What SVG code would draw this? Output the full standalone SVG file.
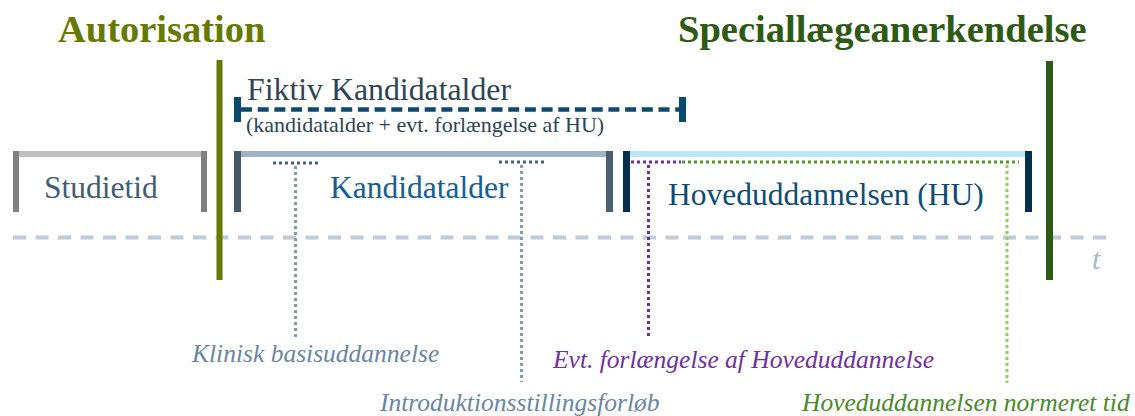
<svg xmlns="http://www.w3.org/2000/svg" width="1135" height="416" viewBox="0 0 1135 416">
<style>
.serif{font-family:"Liberation Serif","Times New Roman",serif}
.title{font-weight:bold;font-size:38.5px}
.lbl{font-size:31.5px}
.it{font-style:italic;font-size:25.5px}
.dotv{stroke-width:3;stroke-dasharray:3 3;fill:none}
.doth{stroke-width:3;stroke-dasharray:3 3;fill:none}
</style>
<rect width="1135" height="416" fill="#ffffff"/>
<g id="axis">
<line x1="13" y1="237.5" x2="1108" y2="237.5" stroke="#BCCCD8" stroke-width="4" stroke-dasharray="13 9.5"/>
<text class="serif" x="1092" y="269" font-size="30" font-style="italic" fill="#A4BACB">t</text>
</g>
<g id="autorisation">
<text class="serif title" x="58" y="42" fill="#667A00">Autorisation</text>
<rect x="216.5" y="60" width="6" height="220" fill="#667A00"/>
</g>
<g id="speciallaege">
<text class="serif title" x="678" y="42" fill="#2E5A14">Speciallægeanerkendelse</text>
<rect x="1046" y="61" width="7" height="219" fill="#2E5A14"/>
</g>
<g id="fiktiv">
<text class="serif" x="247" y="100" font-size="31.8" fill="#2E4456">Fiktiv Kandidatalder</text>
<line x1="241" y1="109.5" x2="679" y2="109.5" stroke="#0B4A6E" stroke-width="4.5" stroke-dasharray="11 5.7"/>
<rect x="234" y="97" width="7" height="25" fill="#0B4A6E"/>
<rect x="679" y="97" width="7" height="25" fill="#0B4A6E"/>
<text class="serif" x="246" y="132" font-size="22" fill="#2E4456">(kandidatalder + evt. forlængelse af HU)</text>
</g>
<g id="studietid">
<rect x="13" y="151" width="194" height="6" fill="#BFBFBF"/>
<rect x="13" y="151" width="6" height="61" fill="#808080"/>
<rect x="201" y="151" width="6" height="61" fill="#808080"/>
<text class="serif lbl" x="44" y="198" fill="#3F5E72">Studietid</text>
</g>
<g id="kandidatalder">
<rect x="234" y="151" width="378" height="6" fill="#9EB4C6"/>
<rect x="234" y="151" width="7" height="61" fill="#44596B"/>
<rect x="606" y="151" width="7" height="61" fill="#4A6072"/>
<text class="serif lbl" x="330" y="198" fill="#15608F">Kandidatalder</text>
</g>
<g id="hu">
<rect x="630" y="151" width="396" height="6" fill="#BDE5F8"/>
<rect x="623" y="151" width="7" height="61" fill="#042F4A"/>
<rect x="1025" y="151" width="7" height="61" fill="#042F4A"/>
<text class="serif lbl" x="668" y="205" fill="#0E4D73">Hoveduddannelsen (HU)</text>
</g>
<g id="connectors">
<line class="doth" x1="273" y1="163" x2="321" y2="163" stroke="#4A6072"/>
<line class="dotv" x1="295.5" y1="166" x2="295.5" y2="338" stroke="#7F9CB0"/>
<line class="doth" x1="499" y1="162" x2="547" y2="162" stroke="#4A6072"/>
<line class="dotv" x1="521.5" y1="165" x2="521.5" y2="382" stroke="#7F9CB0"/>
<line class="doth" x1="631" y1="162" x2="681" y2="162" stroke="#7030A0"/>
<line class="dotv" x1="648.5" y1="165" x2="648.5" y2="337" stroke="#7030A0"/>
<line class="doth" x1="682" y1="162" x2="1019" y2="162" stroke="#4F9A2A"/>
<line class="dotv" x1="1007" y1="165" x2="1007" y2="383" stroke="#92D050"/>
</g>
<g id="labels">
<text class="serif it" x="192" y="362" fill="#6A87A0">Klinisk basisuddannelse</text>
<text class="serif it" x="380" y="411" fill="#6A87A0">Introduktionsstillingsforløb</text>
<text class="serif it" x="553" y="368" fill="#7030A0">Evt. forlængelse af Hoveduddannelse</text>
<text class="serif it" x="802" y="411" fill="#4A8A28">Hoveduddannelsen normeret tid</text>
</g>
</svg>
